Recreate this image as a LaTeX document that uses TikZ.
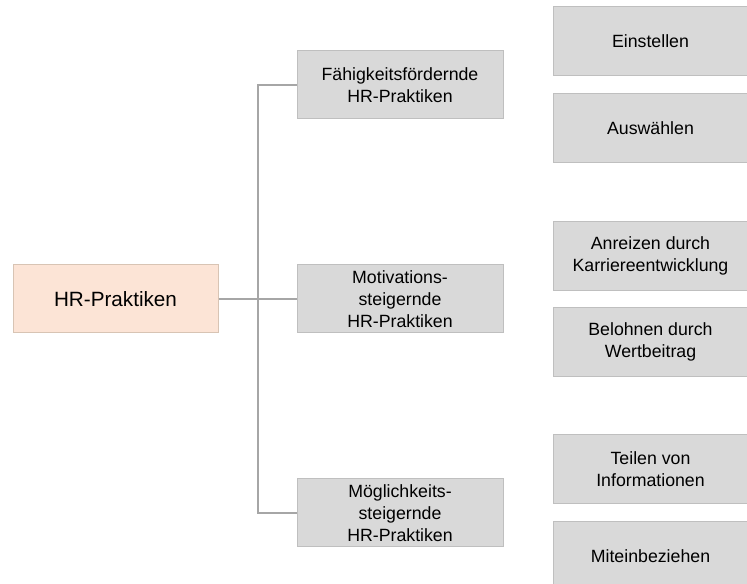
\documentclass[tikz,border=0pt]{standalone}
\usepackage{fontspec}
\setmainfont{Liberation Sans}
\usepackage{tikz}
\definecolor{boxgray}{HTML}{D9D9D9}
\definecolor{boxedge}{HTML}{BFBFBF}
\definecolor{peach}{HTML}{FCE4D6}
\definecolor{peachedge}{HTML}{D8C4B4}
\definecolor{linegray}{HTML}{A6A6A6}

\begin{document}
\begin{tikzpicture}[x=0.75pt, y=-0.75pt,
  box/.style={draw=boxedge, line width=0.75pt, fill=boxgray, align=center,
    font=\fontsize{13.3}{16.3}\selectfont, inner sep=0pt},
  midbox/.style={box, minimum width=154.5pt, minimum height=51pt},
  leafbox/.style={box, minimum width=146pt, minimum height=51.75pt},
  conn/.style={draw=linegray, line width=1.5pt}]
\useasboundingbox (0,0) rectangle (747,584);
% root
\node[draw=peachedge, line width=0.75pt, fill=peach, minimum width=153.75pt,
  minimum height=51pt, font=\fontsize{15.5}{19}\selectfont] (root) at (115.5,299) {HR-Praktiken};
% second level
\node[midbox] (abil) at (400,85) {Fähigkeitsfördernde\\HR-Praktiken};
\node[midbox] (motiv) at (400,299) {Motivations-\\steigernde\\HR-Praktiken};
\node[midbox] (opport) at (400,513) {Möglichkeits-\\steigernde\\HR-Praktiken};
% third level
\node[leafbox] (hire) at (650.5,41.5) {Einstellen};
\node[leafbox] (select) at (650.5,128) {Auswählen};
\node[leafbox] (career) at (650.5,256) {Anreizen durch\\Karriereentwicklung};
\node[leafbox] (reward) at (650.5,342) {Belohnen durch\\Wertbeitrag};
\node[leafbox] (share) at (650.5,469.5) {Teilen von\\Informationen};
\node[leafbox] (involve) at (650.5,556.5) {Miteinbeziehen};
% tree lines
\coordinate (trunk) at (258,299);
\draw[conn] (root.east) -- (trunk);
\draw[conn] (motiv.west) -- (trunk);
\draw[conn] (abil.west) -| (trunk);
\draw[conn] (opport.west) -| (trunk);
\end{tikzpicture}
\end{document}
